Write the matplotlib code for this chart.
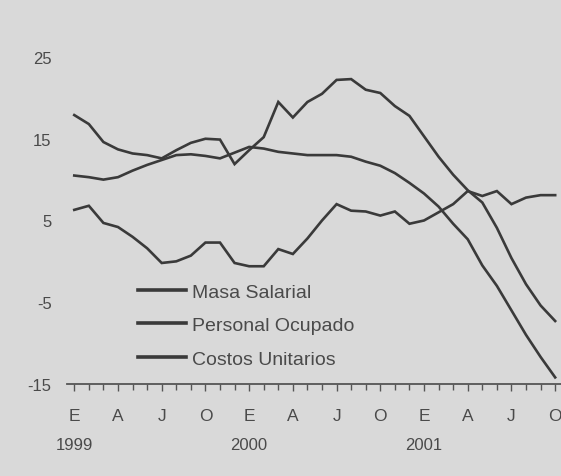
import numpy as np
import matplotlib.pyplot as plt
from matplotlib.ticker import FixedLocator

# monthly series, Jan 1999 .. Oct 2001
months = np.arange(34)

masa_salarial = [17.9, 16.8, 14.6, 13.7, 13.2, 13.0, 12.6, 13.6, 14.5, 15.0,
                 14.9, 11.9, 13.6, 15.2, 19.5, 17.6, 19.5, 20.5, 22.2, 22.3,
                 21.0, 20.6, 19.0, 17.8, 15.3, 12.8, 10.6, 8.7, 7.2, 4.1,
                 0.4, -2.8, -5.4, -7.3]

personal_ocupado = [10.5, 10.3, 10.0, 10.3, 11.1, 11.8, 12.4, 13.0, 13.1, 12.9,
                    12.6, 13.3, 14.0, 13.8, 13.4, 13.2, 13.0, 13.0, 13.0, 12.8,
                    12.2, 11.7, 10.8, 9.6, 8.3, 6.7, 4.6, 2.7, -0.5, -3.0,
                    -6.0, -9.0, -11.7, -14.2]

costos_unitarios = [6.3, 6.8, 4.7, 4.2, 3.0, 1.6, -0.2, 0.0, 0.7, 2.3,
                    2.3, -0.2, -0.6, -0.6, 1.5, 0.9, 2.8, 5.0, 7.0, 6.2,
                    6.1, 5.6, 6.1, 4.6, 5.0, 6.0, 7.0, 8.6, 8.0, 8.6,
                    7.0, 7.8, 8.1, 8.1]

series_names = ["Masa Salarial", "Personal Ocupado", "Costos Unitarios"]

quarter_labels = ["E", "A", "J", "O", "E", "A", "J", "O", "E", "A", "J", "O"]
year_labels = ["1999", "2000", "2001"]
y_ticks = [25, 15, 5, -5, -15]

bg = "#d9d9d9"
ink = "#3a3a3a"
txt = "#4a4a4a"

plt.rcParams["font.family"] = ["Liberation Sans", "DejaVu Sans"]

fig = plt.figure(figsize=(5.61, 4.77), dpi=100, facecolor=bg)
ax = fig.add_axes([0.1194, 0.193, 0.8806, 0.771])
ax.set_facecolor(bg)

for vals, name in zip([masa_salarial, personal_ocupado, costos_unitarios], series_names):
    ax.plot(months, vals, color=ink, lw=1.9, label=name, solid_joinstyle="miter")

ax.set_xlim(-0.5, 33.4)
ax.set_ylim(-15, 30)

for s in ["top", "right", "left"]:
    ax.spines[s].set_visible(False)
ax.spines["bottom"].set_color("#555555")
ax.spines["bottom"].set_linewidth(1.3)

# y labels without tick marks
ax.set_yticks(y_ticks)
ax.set_yticklabels([str(v) for v in y_ticks], fontsize=12, color=txt)
ax.tick_params(axis="y", length=0, pad=11)

# monthly minor ticks, quarter letters
ax.xaxis.set_minor_locator(FixedLocator(months))
q_pos = np.arange(0, 34, 3)
ax.set_xticks(q_pos)
ax.set_xticklabels(quarter_labels, fontsize=12.5, color=txt)
ax.tick_params(axis="x", which="major", length=5, width=1, color="#555555", pad=12)
ax.tick_params(axis="x", which="minor", length=4, width=1, color="#555555")

for i, yl in enumerate(year_labels):
    ax.text(12 * i, -0.165, yl, transform=ax.get_xaxis_transform(),
            ha="center", va="center", fontsize=12, color=txt)

leg = ax.legend(loc="upper left", bbox_to_anchor=(138 / 561, 1 - 284 / 477),
                bbox_transform=fig.transFigure, frameon=False, fontsize=14,
                handlelength=2.45, handletextpad=0.35, labelspacing=0.82,
                borderpad=0, borderaxespad=0)
for t in leg.get_texts():
    t.set_color(txt)
for h in leg.get_lines():
    h.set_linewidth(2.6)

fig.savefig("out.png", dpi=100, facecolor=bg)
